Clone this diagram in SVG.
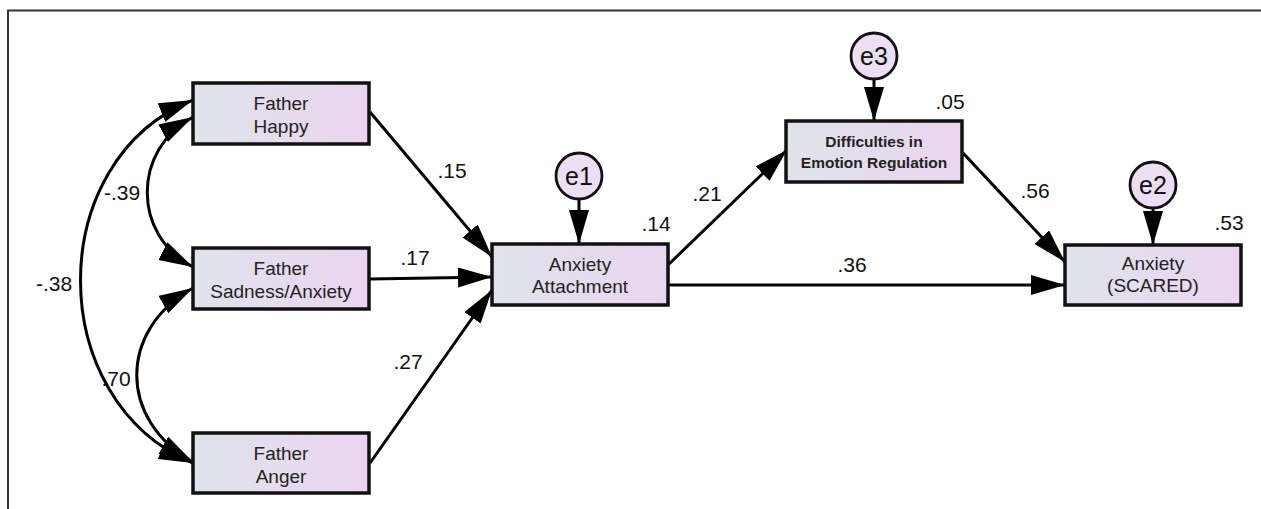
<svg xmlns="http://www.w3.org/2000/svg" width="1261" height="509" viewBox="0 0 1261 509">
<defs>
<linearGradient id="boxfill" x1="0" y1="0" x2="1" y2="0">
<stop offset="0" stop-color="#dfe3ea"/>
<stop offset="1" stop-color="#ebd5f1"/>
</linearGradient>
<marker id="ah" markerUnits="userSpaceOnUse" markerWidth="36" markerHeight="22" refX="34" refY="10" orient="auto-start-reverse" viewBox="0 0 36 22">
<path d="M0,0 L34,10 L0,20 Z" fill="#000"/>
</marker>
<style>
.box{fill:url(#boxfill);stroke:#111;stroke-width:3.5}
.err{fill:#ecdff3;stroke:#111;stroke-width:2.8}
.lbl{font-family:"Liberation Sans",Arial,sans-serif;font-size:19px;fill:#222;text-anchor:middle}
.lblb{font-family:"Liberation Sans",Arial,sans-serif;font-size:15.5px;font-weight:bold;fill:#222;text-anchor:middle}
.num{font-family:"Liberation Sans",Arial,sans-serif;font-size:21px;fill:#111;text-anchor:middle}
.etx{font-family:"Liberation Sans",Arial,sans-serif;font-size:25px;fill:#111;text-anchor:middle}
.ln{fill:none;stroke:#000;stroke-width:3}
</style>
</defs>
<rect width="1261" height="509" fill="#fff"/>
<path d="M8,509 L8,10.5 L1261,10.5" fill="none" stroke="#333" stroke-width="2"/>

<g id="connectors">
<path class="ln" marker-start="url(#ah)" marker-end="url(#ah)" d="M193,117 C132,150 132,235 193,267"/>
<path class="ln" marker-start="url(#ah)" marker-end="url(#ah)" d="M193,100 C43,160 43,400 193,463"/>
<path class="ln" marker-start="url(#ah)" marker-end="url(#ah)" d="M193,288 C118,330 118,420 193,462"/>
<path class="ln" marker-end="url(#ah)" d="M370,112 L492,257"/>
<path class="ln" marker-end="url(#ah)" d="M370,279 L492,277"/>
<path class="ln" marker-end="url(#ah)" d="M370,463 L492,290"/>
<path class="ln" marker-end="url(#ah)" d="M668,265 L787,150"/>
<path class="ln" marker-end="url(#ah)" d="M668,285 L1065,285"/>
<path class="ln" marker-end="url(#ah)" d="M963,153 L1065,262"/>
<path class="ln" marker-end="url(#ah)" d="M579,199 L579,244"/>
<path class="ln" marker-end="url(#ah)" d="M874,78 L874,121"/>
<path class="ln" marker-end="url(#ah)" d="M1153,207 L1153,245"/>
<text class="num" x="122" y="200">-.39</text>
<text class="num" x="54" y="291">-.38</text>
<text class="num" x="116" y="386">.70</text>
<text class="num" x="452" y="178">.15</text>
<text class="num" x="415" y="265">.17</text>
<text class="num" x="408" y="369">.27</text>
<text class="num" x="707" y="201">.21</text>
<text class="num" x="852" y="272">.36</text>
<text class="num" x="1035" y="198">.56</text>
</g>

<g id="father-happy">
<rect class="box" x="193" y="83" width="176" height="61"/>
<text class="lbl" x="281" y="110">Father</text>
<text class="lbl" x="281" y="133">Happy</text>
</g>
<g id="father-sadness">
<rect class="box" x="193" y="248" width="176" height="61"/>
<text class="lbl" x="281" y="275">Father</text>
<text class="lbl" x="281" y="298">Sadness/Anxiety</text>
</g>
<g id="father-anger">
<rect class="box" x="193" y="433" width="176" height="60"/>
<text class="lbl" x="281" y="460">Father</text>
<text class="lbl" x="281" y="483">Anger</text>
</g>
<g id="anxiety-attachment">
<rect class="box" x="492" y="244" width="176" height="61"/>
<text class="lbl" x="580" y="271">Anxiety</text>
<text class="lbl" x="580" y="293">Attachment</text>
<text class="num" x="656" y="231">.14</text>
</g>
<g id="e1">
<circle class="err" cx="579" cy="176" r="23"/>
<text class="etx" x="579" y="185">e1</text>
</g>
<g id="difficulties">
<rect class="box" x="786" y="121" width="176" height="61"/>
<text class="lblb" x="874" y="147">Difficulties in</text>
<text class="lblb" x="874" y="168">Emotion Regulation</text>
<text class="num" x="950" y="109">.05</text>
</g>
<g id="e3">
<circle class="err" cx="874" cy="56" r="23"/>
<text class="etx" x="874" y="65">e3</text>
</g>
<g id="anxiety-scared">
<rect class="box" x="1065" y="245" width="176" height="60"/>
<text class="lbl" x="1153" y="270">Anxiety</text>
<text class="lbl" x="1153" y="292">(SCARED)</text>
<text class="num" x="1229" y="230">.53</text>
</g>
<g id="e2">
<circle class="err" cx="1153" cy="185" r="23"/>
<text class="etx" x="1153" y="194">e2</text>
</g>
</svg>
